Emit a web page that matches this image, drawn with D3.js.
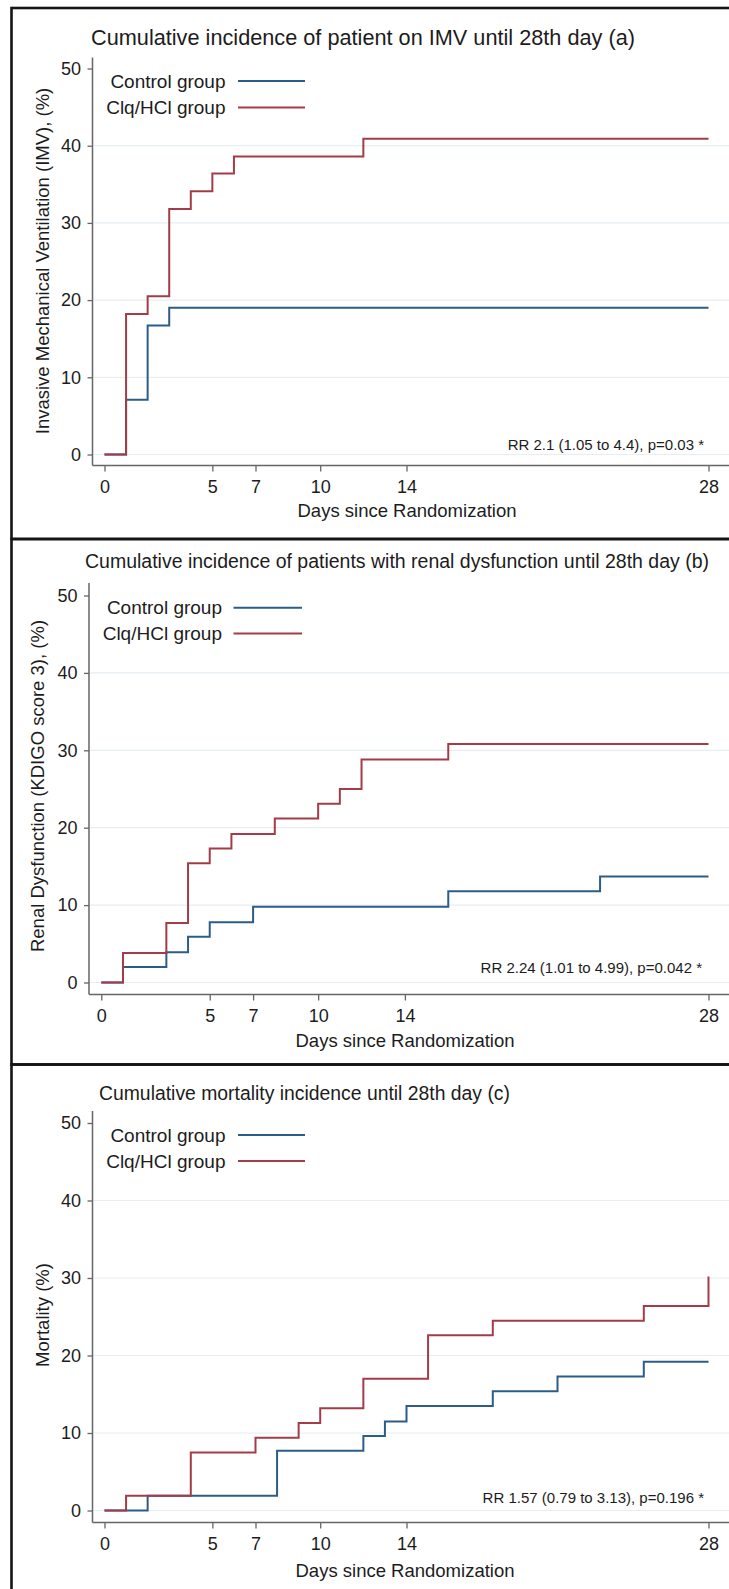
<!DOCTYPE html>
<html>
<head>
<meta charset="utf-8">
<script src="https://cdn.jsdelivr.net/npm/d3@7"></script>
<style>
  body { margin: 0; background: #fff; }
  text { font-family: "Liberation Sans", Arial, sans-serif; fill: #1c1c1c; }
</style>
</head>
<body>
<div id="chart"></div>
<script>
// axis ticks shared by all three panels
const xTicks = [0, 5, 7, 10, 14, 28];
const yTicks = [0, 10, 20, 30, 40, 50];
const groups = ["Control group", "Clq/HCl group"];

// (a) invasive mechanical ventilation
const imvControlDays = [0, 1, 2, 3, 28];
const imvControlPct  = [0, 7.1, 16.7, 19.0, 19.0];
const imvTreatDays   = [0, 1, 2, 3, 4, 5, 6, 12, 28];
const imvTreatPct    = [0, 18.2, 20.5, 31.8, 34.1, 36.4, 38.6, 40.9, 40.9];

// (b) renal dysfunction
const renalControlDays = [0, 1, 3, 4, 5, 7, 16, 23, 28];
const renalControlPct  = [0, 2.0, 3.9, 5.9, 7.8, 9.8, 11.8, 13.7, 13.7];
const renalTreatDays   = [0, 1, 3, 4, 5, 6, 8, 10, 11, 12, 16, 28];
const renalTreatPct    = [0, 3.8, 7.7, 15.4, 17.3, 19.2, 21.2, 23.1, 25.0, 28.8, 30.8, 30.8];

// (c) mortality
const mortControlDays = [0, 2, 8, 12, 13, 14, 18, 21, 25, 28];
const mortControlPct  = [0, 1.9, 7.7, 9.6, 11.5, 13.5, 15.4, 17.3, 19.2, 19.2];
const mortTreatDays   = [0, 1, 4, 7, 9, 10, 12, 15, 18, 25, 28];
const mortTreatPct    = [0, 1.9, 7.5, 9.4, 11.3, 13.2, 17.0, 22.6, 24.5, 26.4, 30.2];

const colors = ["#2c5d8a", "#a33c48"];

const W = 729, H = 1589;

const panels = [
  {
    title: "Cumulative incidence of patient on IMV until 28th day (a)",
    yTitle: "Invasive Mechanical Ventilation (IMV), (%)",
    rr: "RR 2.1 (1.05 to 4.4), p=0.03 *",
    series: [[imvControlDays, imvControlPct], [imvTreatDays, imvTreatPct]],
    top: 8, bottom: 539,
    titleX: 91, titleW: 544, titleY: 44.5, titleSize: 21.5,
    axisX: 92.5, axisTop: 57.5, axisY: 465.5,
    x0: 104.5, x1: 708.5, y0: 454.5, y1: 68.5,
    yTitleX: 43, yTitleY: 261,
    legX: 225.5, legY: [81, 107.5], legLine: [238, 305],
    rrX: 704, rrY: 450, daysX: 407, daysY: 517
  },
  {
    title: "Cumulative incidence of patients with renal dysfunction until 28th day (b)",
    yTitle: "Renal Dysfunction (KDIGO score 3), (%)",
    rr: "RR 2.24 (1.01 to 4.99), p=0.042 *",
    series: [[renalControlDays, renalControlPct], [renalTreatDays, renalTreatPct]],
    top: 539, bottom: 1064.5,
    titleX: 85, titleW: 624, titleY: 567.5, titleSize: 19.4,
    axisX: 89, axisTop: 583, axisY: 994.5,
    x0: 101.3, x1: 708.5, y0: 982.5, y1: 595.5,
    yTitleX: 38, yTitleY: 786,
    legX: 222, legY: [607.8, 633.6], legLine: [233.5, 302],
    rrX: 702, rrY: 973, daysX: 405, daysY: 1046.5
  },
  {
    title: "Cumulative mortality incidence until 28th day (c)",
    yTitle: "Mortality (%)",
    rr: "RR 1.57 (0.79 to 3.13), p=0.196 *",
    series: [[mortControlDays, mortControlPct], [mortTreatDays, mortTreatPct]],
    top: 1064.5, bottom: 1600,
    titleX: 99, titleW: 411, titleY: 1100, titleSize: 19.4,
    axisX: 92.5, axisTop: 1111, axisY: 1522.5,
    x0: 104.5, x1: 708.5, y0: 1510.5, y1: 1123,
    yTitleX: 43, yTitleY: 1315,
    legX: 225.5, legY: [1135, 1161], legLine: [238, 305],
    rrX: 704, rrY: 1502.5, daysX: 405, daysY: 1577
  }
];

const svg = d3.select("#chart").append("svg")
  .attr("width", W)
  .attr("height", H);

svg.append("rect").attr("width", W).attr("height", H).attr("fill", "#fff");

panels.forEach(p => {
  const g = svg.append("g");

  // panel frame (runs off the right and bottom edge like the original)
  g.append("rect")
    .attr("x", 11.5).attr("y", p.top)
    .attr("width", 760).attr("height", p.bottom - p.top)
    .attr("fill", "none")
    .attr("stroke", "#151515")
    .attr("stroke-width", 2.6);

  const x = d3.scaleLinear().domain([0, 28]).range([p.x0, p.x1]);
  const y = d3.scaleLinear().domain([0, 50]).range([p.y0, p.y1]);

  // light gridlines
  g.selectAll(".grid")
    .data(yTicks.filter(t => t < 50))
    .join("line")
    .attr("x1", p.axisX + 1).attr("x2", W)
    .attr("y1", d => y(d)).attr("y2", d => y(d))
    .attr("stroke", "#e6eef2")
    .attr("stroke-width", 1.2);

  // axes
  const yAxis = g.append("g")
    .attr("transform", `translate(${p.axisX},0)`)
    .call(d3.axisLeft(y).tickValues(yTicks).tickSize(5).tickPadding(6.5));
  const xAxis = g.append("g")
    .attr("transform", `translate(0,${p.axisY})`)
    .call(d3.axisBottom(x).tickValues(xTicks).tickSize(6).tickPadding(9));

  [yAxis, xAxis].forEach(a => {
    a.select(".domain").remove();
    a.selectAll(".tick line").attr("stroke", "#666").attr("stroke-width", 1.3);
    a.selectAll(".tick text")
      .style("font-size", "18px")
      .style("font-family", "'Liberation Sans', Arial, sans-serif")
      .attr("fill", "#1c1c1c");
  });

  g.append("line")
    .attr("x1", p.axisX).attr("x2", p.axisX)
    .attr("y1", p.axisTop).attr("y2", p.axisY)
    .attr("stroke", "#666").attr("stroke-width", 1.5);
  g.append("line")
    .attr("x1", p.axisX).attr("x2", W)
    .attr("y1", p.axisY).attr("y2", p.axisY)
    .attr("stroke", "#666").attr("stroke-width", 1.5);

  // step curves, control first so treatment sits on top
  const line = d3.line()
    .x(d => x(d[0]))
    .y(d => y(d[1]))
    .curve(d3.curveStepAfter);

  p.series.forEach((s, i) => {
    const pts = s[0].map((d, k) => [d, s[1][k]]);
    g.append("path")
      .datum(pts)
      .attr("d", line)
      .attr("fill", "none")
      .attr("stroke", colors[i])
      .attr("stroke-width", 2);
  });

  // legend
  groups.forEach((name, i) => {
    g.append("text")
      .attr("x", p.legX).attr("y", p.legY[i])
      .attr("dy", "0.35em")
      .attr("text-anchor", "end")
      .style("font-size", "19px")
      .text(name);
    g.append("line")
      .attr("x1", p.legLine[0]).attr("x2", p.legLine[1])
      .attr("y1", p.legY[i]).attr("y2", p.legY[i])
      .attr("stroke", colors[i])
      .attr("stroke-width", 2);
  });

  // titles
  g.append("text")
    .attr("x", p.titleX).attr("y", p.titleY)
    .attr("textLength", p.titleW)
    .attr("lengthAdjust", "spacingAndGlyphs")
    .style("font-size", p.titleSize + "px")
    .text(p.title);

  g.append("text")
    .attr("transform", `translate(${p.yTitleX},${p.yTitleY}) rotate(-90)`)
    .attr("text-anchor", "middle")
    .attr("dy", "0.35em")
    .style("font-size", "18.5px")
    .text(p.yTitle);

  g.append("text")
    .attr("x", p.daysX).attr("y", p.daysY)
    .attr("text-anchor", "middle")
    .style("font-size", "18.5px")
    .text("Days since Randomization");

  g.append("text")
    .attr("x", p.rrX).attr("y", p.rrY)
    .attr("text-anchor", "end")
    .style("font-size", "15px")
    .attr("fill", "#333")
    .text(p.rr);
});
</script>
</body>
</html>
